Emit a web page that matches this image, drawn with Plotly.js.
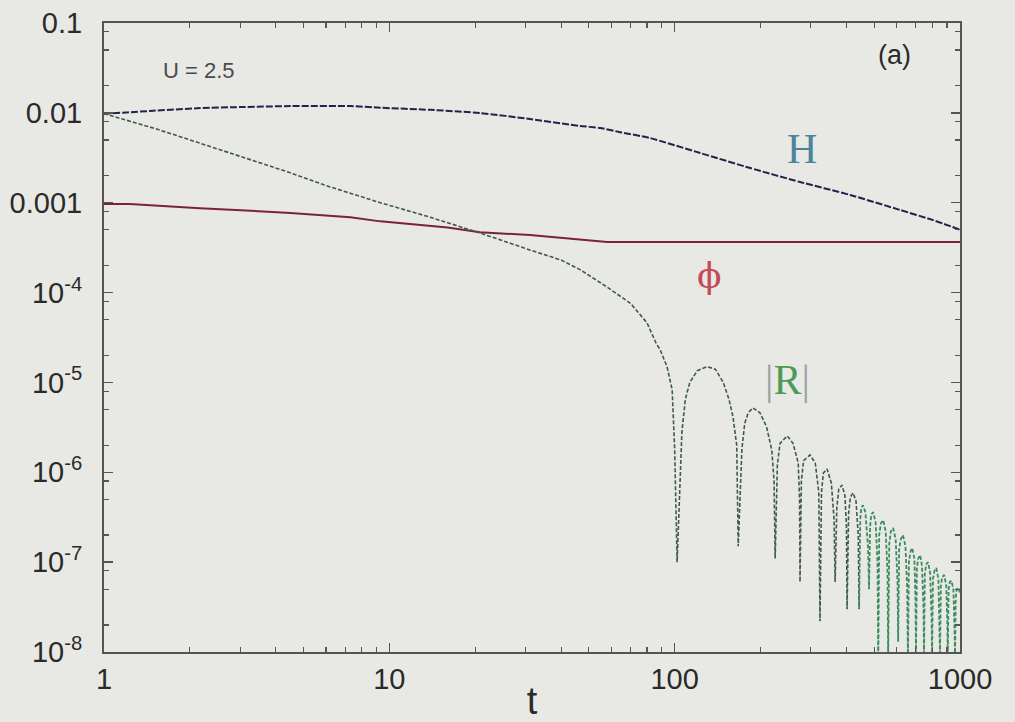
<!DOCTYPE html>
<html>
<head>
<meta charset="utf-8">
<script src="https://cdn.plot.ly/plotly-3.0.1.min.js"></script>
<style>
  html, body { margin: 0; padding: 0; background: #e8e9e4; }
  #chart { width: 1015px; height: 722px; }
</style>
</head>
<body>
<div id="chart"></div>
<script>
// ---- data ----
const hT = [1, 1.2, 1.45, 2.17, 3, 4.5, 7.3, 9.3, 13.9, 20.8, 31.1, 46.6, 54.8, 64.4, 82, 123, 184, 275, 412, 617, 805, 1000];
const hV = [0.0098, 0.0101, 0.0105, 0.0113, 0.0116, 0.0119, 0.0119, 0.0114, 0.0108, 0.00996, 0.00855, 0.00715, 0.0068, 0.0061, 0.00525, 0.00357, 0.00243, 0.0017, 0.00122, 0.00083, 0.00064, 0.0005];

const phiT = [1, 1.23, 2.17, 4.5, 7.3, 9.3, 16, 20.8, 31.1, 46.6, 58, 100, 300, 1000];
const phiV = [0.00097, 0.00097, 0.00087, 0.00077, 0.00069, 0.00062, 0.00053, 0.00047, 0.000437, 0.00039, 0.000366, 0.000366, 0.000366, 0.000366];

// |R| : smooth decay and first oscillations
const rT1 = [1, 1.53, 2.17, 2.61, 4.5, 6.2, 9.3, 13.9, 20.8, 31.1, 40, 46.6, 58, 70, 80, 86, 89, 94, 98, 100, 102,
  106, 109, 113, 120, 130, 139, 148, 155, 160, 165, 167,
  172, 176, 181, 188, 199, 210, 219, 223, 225,
  229, 234, 248, 260, 271, 274, 275,
  278, 283, 298, 311, 320, 323,
  327, 332, 342, 354, 362, 365,
  370, 376, 386, 395, 400, 402,
  407, 413, 422, 432, 440, 443];
const rV1 = [0.0098, 0.0066, 0.0046, 0.0038, 0.00215, 0.0015, 0.001, 0.00069, 0.00046, 0.000298, 0.00023, 0.00018, 0.000115, 7.6e-5, 4.6e-5, 2.75e-5, 2.3e-5, 1.5e-5, 8.3e-6, 1.8e-6, 1e-7,
  2.8e-6, 6.5e-6, 1e-5, 1.35e-5, 1.5e-5, 1.4e-5, 1e-5, 6.5e-6, 4.2e-6, 2e-6, 1.5e-7,
  1.8e-6, 3.5e-6, 4.6e-6, 5.2e-6, 4.6e-6, 3.2e-6, 1.75e-6, 8e-7, 1.1e-7,
  1.2e-6, 2.1e-6, 2.54e-6, 2.1e-6, 1.27e-6, 5e-7, 6e-8,
  8e-7, 1.35e-6, 1.56e-6, 1.27e-6, 6e-7, 2.2e-8,
  6e-7, 9.8e-7, 1.09e-6, 7.6e-7, 3e-7, 6e-8,
  4e-7, 6.5e-7, 7.2e-7, 5.5e-7, 2.5e-7, 3e-8,
  3.5e-7, 5.3e-7, 5.9e-7, 4.8e-7, 2e-7, 3e-8];

// |R| : dense late oscillations
const rT2 = [443, 447, 451, 457, 466, 476, 480,
  484, 489, 496, 506, 514, 517,
  521, 528, 538, 549, 557, 560,
  565, 572, 583, 595, 604, 607,
  612, 620, 631, 644, 653, 657,
  662, 670, 680, 692, 698, 701,
  706, 714, 725, 736, 745, 748,
  753, 762, 773, 786, 795, 798,
  804, 814, 826, 840, 848, 851,
  857, 866, 880, 895, 903, 906,
  912, 921, 933, 948, 958, 961,
  966, 975, 990, 1000];
const rV2 = [3e-8, 3e-7, 4e-7, 4.3e-7, 3.6e-7, 1.5e-7, 5e-8,
  2.5e-7, 3.4e-7, 3.6e-7, 2.8e-7, 1e-7, 8e-9,
  2e-7, 2.7e-7, 2.94e-7, 2.2e-7, 8e-8, 9e-9,
  1.6e-7, 2.2e-7, 2.4e-7, 1.8e-7, 6e-8, 1.3e-8,
  1.4e-7, 1.8e-7, 2e-7, 1.5e-7, 5e-8, 8e-9,
  1e-7, 1.3e-7, 1.44e-7, 1.1e-7, 4e-8, 9e-9,
  8.5e-8, 1.1e-7, 1.2e-7, 9e-8, 3e-8, 9e-9,
  7.5e-8, 9.5e-8, 1e-7, 7.5e-8, 2.5e-8, 9e-9,
  6.5e-8, 8e-8, 8.6e-8, 6.5e-8, 2e-8, 9e-9,
  5.5e-8, 6.8e-8, 7.2e-8, 5.5e-8, 2e-8, 9e-9,
  5e-8, 6e-8, 6.2e-8, 5e-8, 1.5e-8, 9e-9,
  4e-8, 5e-8, 5.2e-8, 4.5e-8];

const xTickVals = [1, 10, 100, 1000];
const xTickText = ['1', '10', '100', '1000'];
const yTickVals = [0.1, 0.01, 0.001, 1e-4, 1e-5, 1e-6, 1e-7, 1e-8];
const yTickText = ['0.1', '0.01', '0.001', '10<sup>-4</sup>', '10<sup>-5</sup>', '10<sup>-6</sup>', '10<sup>-7</sup>', '10<sup>-8</sup>'];

// minor tick positions
const xMinor = [];
for (const d of [1, 10, 100]) for (let m = 2; m <= 9; m++) xMinor.push(m * d);
const yMinor = [];
for (let e = -8; e <= -2; e++) for (const m of [2, 5, 8]) yMinor.push(m * Math.pow(10, e));

const traces = [
  { x: hT, y: hV, type: 'scatter', mode: 'lines', name: 'H',
    line: { color: '#22224a', width: 2, dash: '7px,2px', shape: 'spline', smoothing: 0.5 } },
  { x: phiT, y: phiV, type: 'scatter', mode: 'lines', name: 'phi',
    line: { color: '#7c2236', width: 2 } },
  { x: rT1, y: rV1, type: 'scatter', mode: 'lines', name: '|R|',
    line: { color: '#3f5852', width: 1.6, dash: '4px,2px' } },
  { x: rT2, y: rV2, type: 'scatter', mode: 'lines', name: '|R| late',
    line: { color: '#3b8c5c', width: 1.8, dash: '4px,2px' } }
];

const axisCommon = {
  type: 'log', showgrid: false, zeroline: false,
  showline: true, linecolor: '#555', linewidth: 2, mirror: 'allticks',
  ticks: 'inside', ticklen: 9, tickwidth: 1.5, tickcolor: '#555',
  tickmode: 'array',
  tickfont: { family: 'Liberation Sans, Arial, sans-serif', size: 29, color: '#2a2a2a' }
};

const layout = {
  width: 1015, height: 722,
  margin: { l: 104, r: 55, t: 23, b: 70 },
  paper_bgcolor: '#e8e9e4', plot_bgcolor: '#e8e9e4',
  showlegend: false,
  xaxis: Object.assign({}, axisCommon, {
    range: [0, 3], tickvals: xTickVals, ticktext: xTickText,
    ticklabelstandoff: 0,
    minor: { tickmode: 'array', tickvals: xMinor, ticks: 'inside', ticklen: 5, tickwidth: 1.2, tickcolor: '#555' },
    title: { text: 't', font: { family: 'Liberation Sans, Arial, sans-serif', size: 38, color: '#2a2a2a' }, standoff: 0 }
  }),
  yaxis: Object.assign({}, axisCommon, {
    range: [-8, -1], tickvals: yTickVals, ticktext: yTickText,
    ticklabelstandoff: 14,
    minor: { tickmode: 'array', tickvals: yMinor, ticks: 'inside', ticklen: 5, tickwidth: 1.2, tickcolor: '#555' }
  }),
  annotations: [
    { xref: 'paper', yref: 'paper', x: 0.111, y: 0.925, xanchor: 'center', yanchor: 'middle',
      text: 'U = 2.5', showarrow: false,
      font: { family: 'Liberation Sans, Arial, sans-serif', size: 22, color: '#4a4a4a' } },
    { xref: 'paper', yref: 'paper', x: 0.923, y: 0.949, xanchor: 'center', yanchor: 'middle',
      text: '(a)', showarrow: false,
      font: { family: 'Liberation Sans, Arial, sans-serif', size: 27, color: '#2a2a2a' } },
    { xref: 'paper', yref: 'paper', x: 0.8154, y: 0.80, xanchor: 'center', yanchor: 'middle',
      text: 'H', showarrow: false,
      font: { family: 'Liberation Serif, Times New Roman, serif', size: 42, color: '#4a859c' } },
    { xref: 'paper', yref: 'paper', x: 0.707, y: 0.598, xanchor: 'center', yanchor: 'middle',
      text: 'ϕ', showarrow: false,
      font: { family: 'DejaVu Serif, Liberation Serif, serif', size: 36, color: '#c44a58' } },
    { xref: 'paper', yref: 'paper', x: 0.799, y: 0.432, xanchor: 'center', yanchor: 'middle',
      text: '<span style="color:#9aa3a0">|</span>R<span style="color:#9aa3a0">|</span>', showarrow: false,
      font: { family: 'Liberation Serif, Times New Roman, serif', size: 42, color: '#4e9a54' } }
  ]
};

Plotly.newPlot('chart', traces, layout, { displayModeBar: false, staticPlot: true });
</script>
</body>
</html>
